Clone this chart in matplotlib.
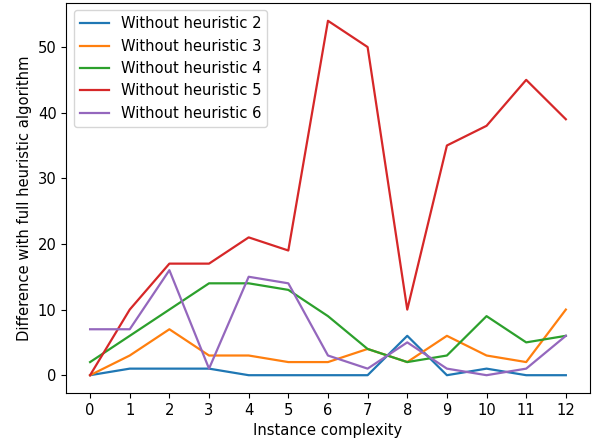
import matplotlib.pyplot as plt

complexity = list(range(13))
h2 = [0, 1, 1, 1, 0, 0, 0, 0, 6, 0, 1, 0, 0]
h3 = [0, 3, 7, 3, 3, 2, 2, 4, 2, 6, 3, 2, 10]
h4 = [2, 6, 10, 14, 14, 13, 9, 4, 2, 3, 9, 5, 6]
h5 = [0, 10, 17, 17, 21, 19, 54, 50, 10, 35, 38, 45, 39]
h6 = [7, 7, 16, 1, 15, 14, 3, 1, 5, 1, 0, 1, 6]

plt.rcParams["font.size"] = 10.6
plt.rcParams["lines.linewidth"] = 1.6

fig, ax = plt.subplots(figsize=(5.92, 4.4), dpi=100)
fig.subplots_adjust(left=0.112, right=0.996, top=0.993, bottom=0.107)

ax.plot(complexity, h2, label="Without heuristic 2")
ax.plot(complexity, h3, label="Without heuristic 3")
ax.plot(complexity, h4, label="Without heuristic 4")
ax.plot(complexity, h5, label="Without heuristic 5")
ax.plot(complexity, h6, label="Without heuristic 6")

ax.set_xticks(complexity)
ax.set_xlabel("Instance complexity")
ax.set_ylabel("Difference with full heuristic algorithm")
ax.legend(loc="upper left")

fig.savefig("out.png")
